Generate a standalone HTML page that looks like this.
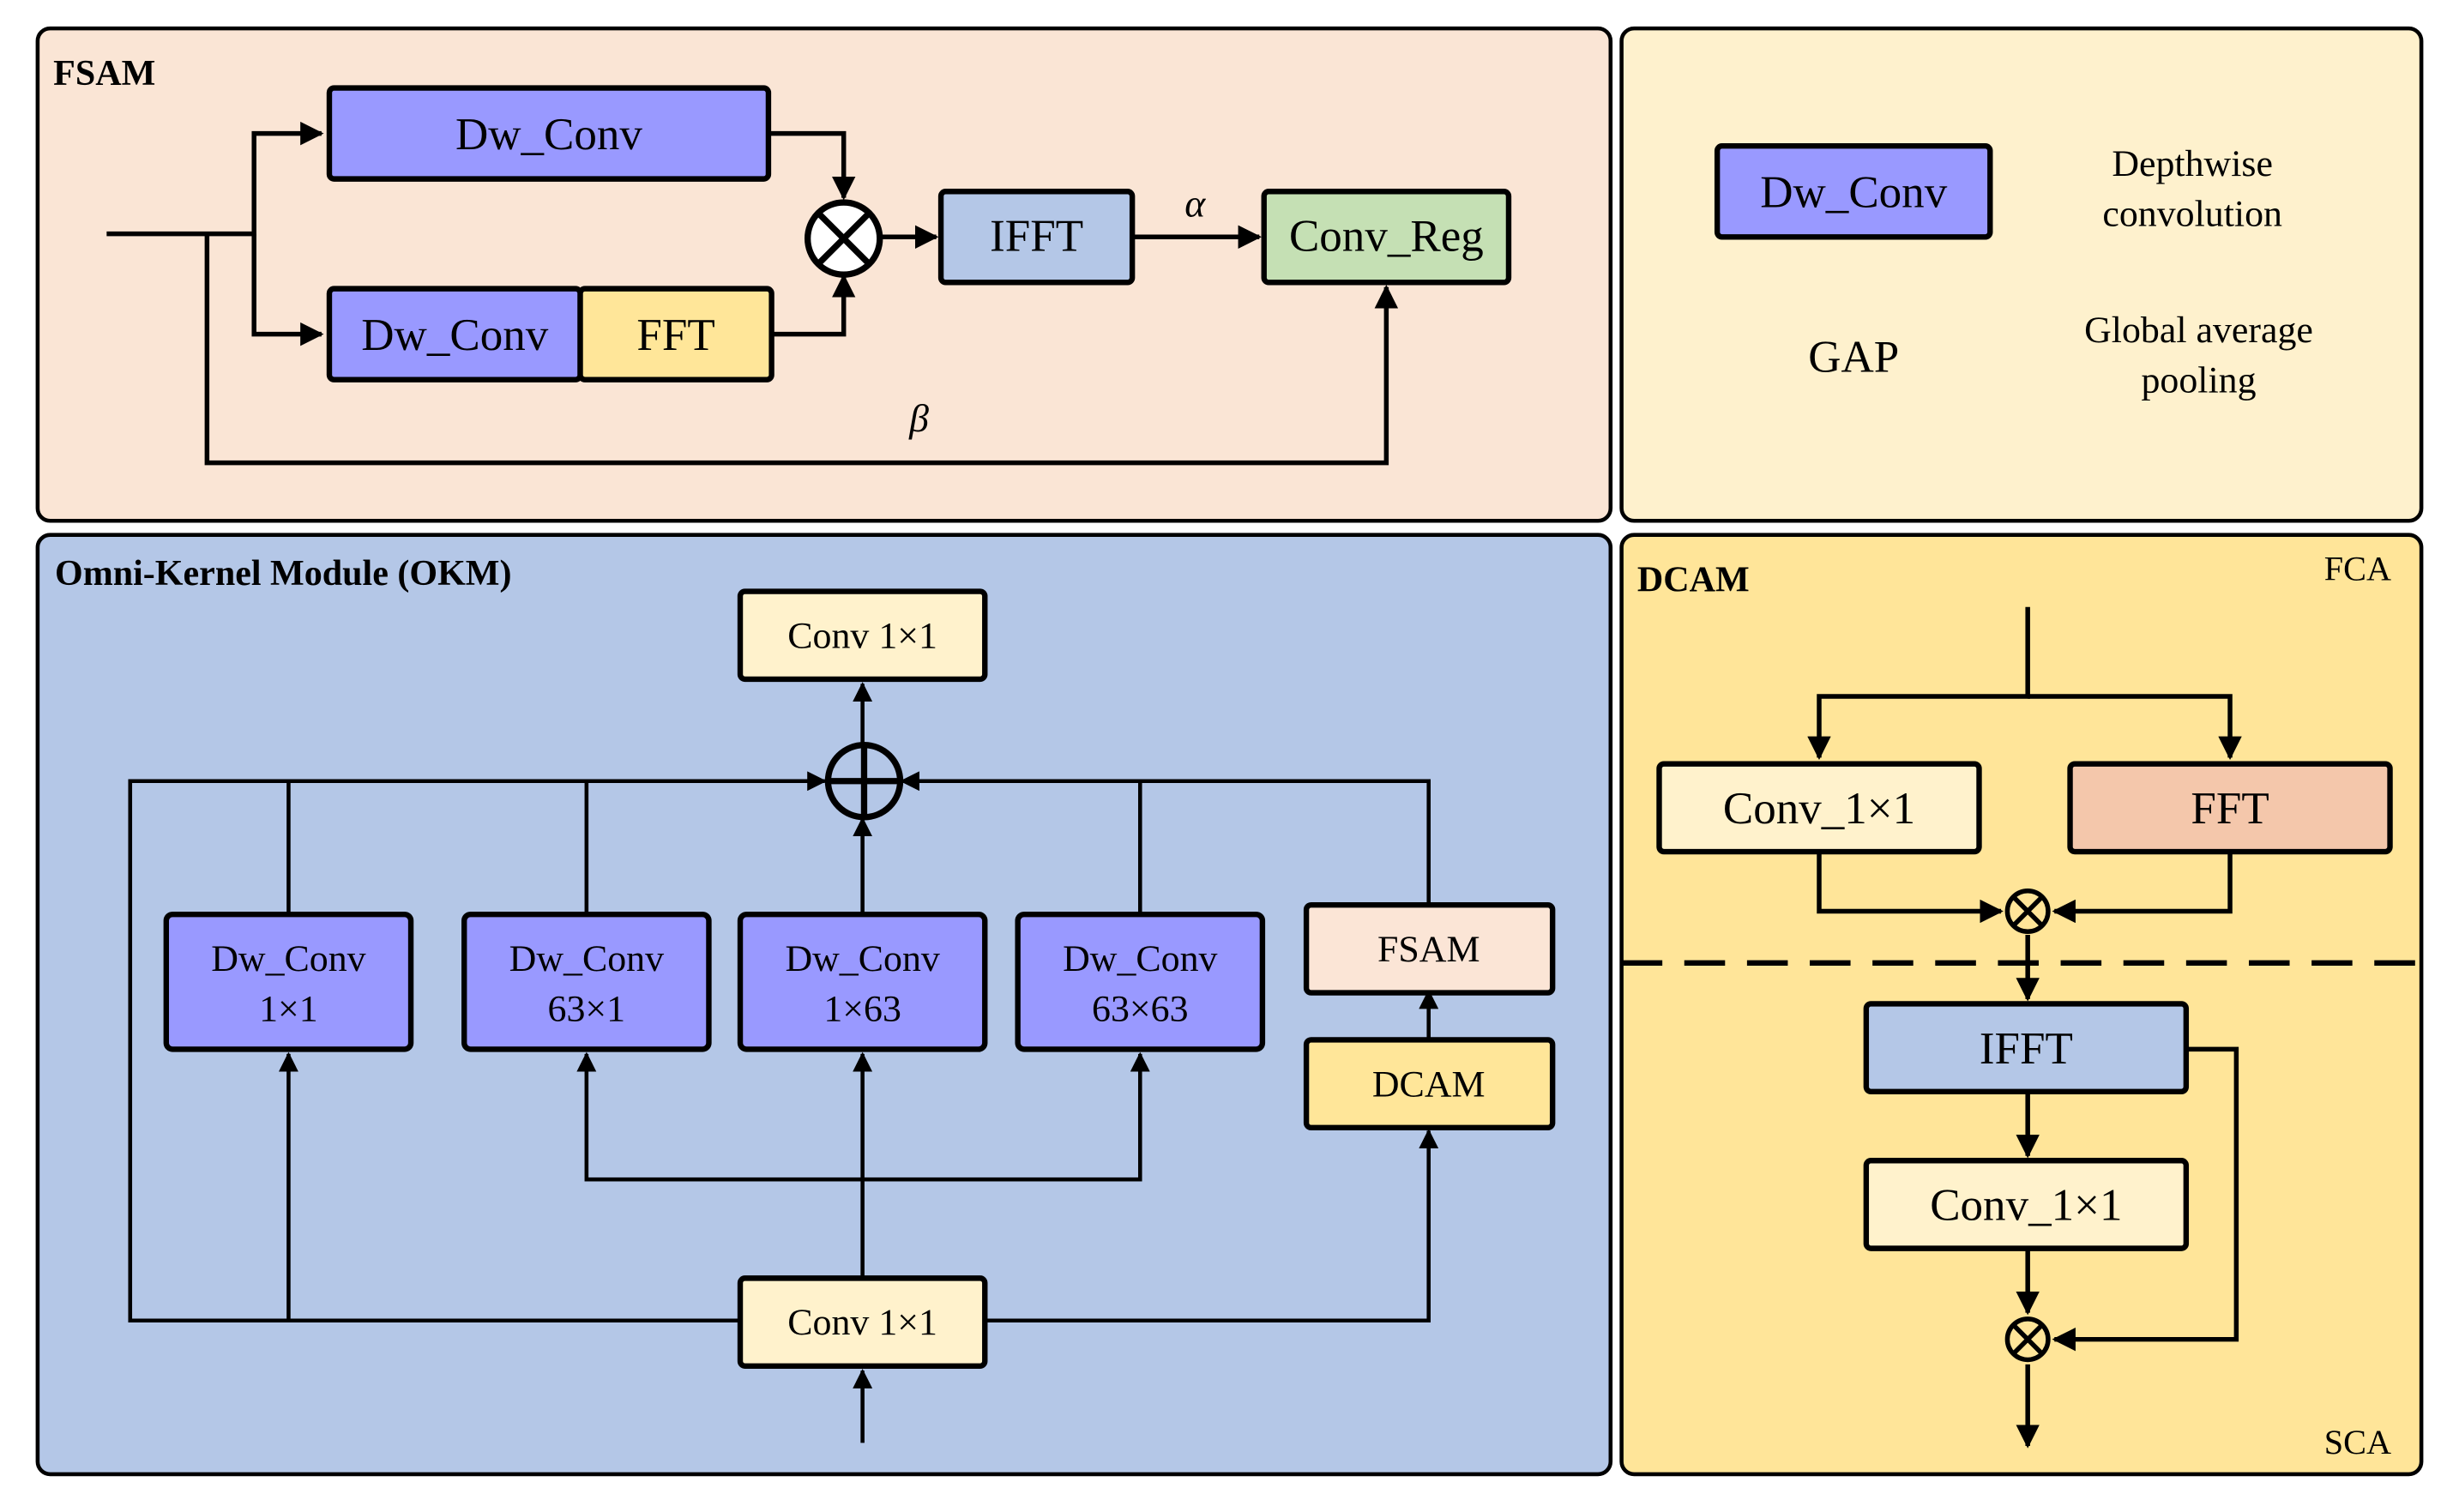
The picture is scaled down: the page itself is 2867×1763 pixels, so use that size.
<!DOCTYPE html>
<html><head><meta charset="utf-8"><style>html,body{margin:0;padding:0;background:#fff}svg{display:block}svg text{font-family:"Liberation Serif","DejaVu Serif",serif}</style></head>
<body>
<svg width="2867" height="1763" viewBox="0 0 1568 964" xmlns="http://www.w3.org/2000/svg">
<defs>
<marker id="a" viewBox="0 0 10 10" refX="9" refY="5" markerWidth="5" markerHeight="5" orient="auto"><path d="M0,0 L10,5 L0,10 z" fill="#000"/></marker>
</defs>
<g stroke="#000" stroke-width="2.5">
<rect x="24" y="18" width="1003" height="314" rx="8" fill="#fae5d5"/>
<rect x="1034" y="18" width="510" height="314" rx="8" fill="#fef1cd"/>
<rect x="24" y="341" width="1003" height="599" rx="8" fill="#b4c7e7"/>
<rect x="1034" y="341" width="510" height="599" rx="8" fill="#ffe599"/>
</g>
<g font-weight="bold" font-size="23">
<text x="34" y="54">FSAM</text>
<text x="35" y="373">Omni-Kernel Module (OKM)</text>
<text x="1044" y="377">DCAM</text>
</g>
<text x="1482" y="370" font-size="22">FCA</text>
<text x="1482" y="927" font-size="22">SCA</text>

<!-- FSAM -->
<g stroke="#000" stroke-width="3" fill="none">
<path d="M68 149 H162 V85 H205" marker-end="url(#a)"/>
<path d="M162 149 V213 H205" marker-end="url(#a)"/>
<path d="M132 149 V295 H884 V183" marker-end="url(#a)"/>
<path d="M490 85 H538 V126" marker-end="url(#a)"/>
<path d="M492 213 H538 V176" marker-end="url(#a)"/>
<path d="M562 151 H597" marker-end="url(#a)"/>
<path d="M722 151 H803" marker-end="url(#a)"/>
<circle cx="538" cy="152" r="23" fill="#fff" stroke-width="4"/>
<path d="M522 136 L554 168 M554 136 L522 168" stroke-width="4"/>
</g>
<g stroke="#000" stroke-width="3.5">
<rect x="210" y="56" width="280" height="58" rx="3" fill="#9999ff"/>
<rect x="210" y="184" width="160" height="58" rx="3" fill="#9999ff"/>
<rect x="370" y="184" width="122" height="58" rx="3" fill="#ffe699"/>
<rect x="600" y="122" width="122" height="58" rx="3" fill="#b4c7e7"/>
<rect x="806" y="122" width="156" height="58" rx="3" fill="#c5e0b4"/>
</g>
<g font-size="29" text-anchor="middle">
<text x="350" y="95">Dw_Conv</text>
<text x="290" y="223">Dw_Conv</text>
<text x="431" y="223">FFT</text>
<text x="661" y="160">IFFT</text>
<text x="884" y="160">Conv_Reg</text>
<text x="762" y="138" font-style="italic" font-size="25">α</text>
<text x="586" y="275" font-style="italic" font-size="25">β</text>
</g>

<!-- legend -->
<rect x="1095" y="93" width="174" height="58" rx="3" fill="#9999ff" stroke="#000" stroke-width="3.5"/>
<g text-anchor="middle">
<text x="1182" y="132" font-size="29">Dw_Conv</text>
<text x="1182" y="237" font-size="29">GAP</text>
<text x="1398" y="112" font-size="24">Depthwise</text>
<text x="1398" y="144" font-size="24">convolution</text>
<text x="1402" y="218" font-size="24">Global average</text>
<text x="1402" y="250" font-size="24">pooling</text>
</g>

<!-- OKM lines -->
<g stroke="#000" stroke-width="2.5" fill="none">
<path d="M550 920 V874" marker-end="url(#a)"/>
<path d="M472 842 H83 V498 H526" marker-end="url(#a)"/>
<path d="M184 842 V672" marker-end="url(#a)"/>
<path d="M184 582 V498"/>
<path d="M374 582 V498"/>
<path d="M550 815 V672" marker-end="url(#a)"/>
<path d="M550 752 H374 V672" marker-end="url(#a)"/>
<path d="M550 752 H727 V672" marker-end="url(#a)"/>
<path d="M628 842 H911 V721" marker-end="url(#a)"/>
<path d="M911 664 V632" marker-end="url(#a)"/>
<path d="M911 577 V498 H575" marker-end="url(#a)"/>
<path d="M727 582 V498"/>
<path d="M550 582 V522" marker-end="url(#a)"/>
<path d="M550 474 V436" marker-end="url(#a)"/>
<circle cx="551" cy="498" r="23" fill="none" stroke-width="4"/>
<path d="M528 498 H574 M551 475 V521" stroke-width="4"/>
</g>
<g stroke="#000" stroke-width="3.5">
<rect x="472" y="377" width="156" height="56" rx="3" fill="#fff2cc"/>
<rect x="472" y="815" width="156" height="56" rx="3" fill="#fff2cc"/>
<rect x="106" y="583" width="156" height="86" rx="4" fill="#9999ff"/>
<rect x="296" y="583" width="156" height="86" rx="4" fill="#9999ff"/>
<rect x="472" y="583" width="156" height="86" rx="4" fill="#9999ff"/>
<rect x="649" y="583" width="156" height="86" rx="4" fill="#9999ff"/>
<rect x="833" y="577" width="157" height="56" rx="3" fill="#fbe5d6"/>
<rect x="833" y="663" width="157" height="56" rx="3" fill="#ffe699"/>
</g>
<g font-size="24" text-anchor="middle">
<text x="550" y="413">Conv 1×1</text>
<text x="550" y="851">Conv 1×1</text>
<text x="184" y="619">Dw_Conv</text><text x="184" y="651">1×1</text>
<text x="374" y="619">Dw_Conv</text><text x="374" y="651">63×1</text>
<text x="550" y="619">Dw_Conv</text><text x="550" y="651">1×63</text>
<text x="727" y="619">Dw_Conv</text><text x="727" y="651">63×63</text>
<text x="911" y="613">FSAM</text>
<text x="911" y="699">DCAM</text>
</g>

<!-- DCAM -->
<g stroke="#000" stroke-width="3" fill="none">
<path d="M1293 387 V444 H1160 V483" marker-end="url(#a)"/>
<path d="M1293 444 H1422 V483" marker-end="url(#a)"/>
<path d="M1160 544 V581 H1276" marker-end="url(#a)"/>
<path d="M1422 544 V581 H1310" marker-end="url(#a)"/>
<path d="M1293 596 V637" marker-end="url(#a)"/>
<path d="M1293 697 V737" marker-end="url(#a)"/>
<path d="M1293 797 V837" marker-end="url(#a)"/>
<path d="M1394 669 H1426 V854 H1310" marker-end="url(#a)"/>
<path d="M1293 870 V922" marker-end="url(#a)"/>
<path d="M1034 614 H1544" stroke-dasharray="26 14" stroke-width="3.5"/>
<circle cx="1293" cy="581" r="13"/><path d="M1284 572 L1302 590 M1302 572 L1284 590"/>
<circle cx="1293" cy="854" r="13"/><path d="M1284 845 L1302 863 M1302 845 L1284 863"/>
</g>
<g stroke="#000" stroke-width="3.5">
<rect x="1058" y="487" width="204" height="56" rx="3" fill="#fff2cc"/>
<rect x="1320" y="487" width="204" height="56" rx="3" fill="#f4c7ab"/>
<rect x="1190" y="640" width="204" height="56" rx="3" fill="#b4c7e7"/>
<rect x="1190" y="740" width="204" height="56" rx="3" fill="#fff2cc"/>
</g>
<g font-size="29" text-anchor="middle">
<text x="1160" y="525">Conv_1×1</text>
<text x="1422" y="525">FFT</text>
<text x="1292" y="678">IFFT</text>
<text x="1292" y="778">Conv_1×1</text>
</g>
</svg>
</body></html>
